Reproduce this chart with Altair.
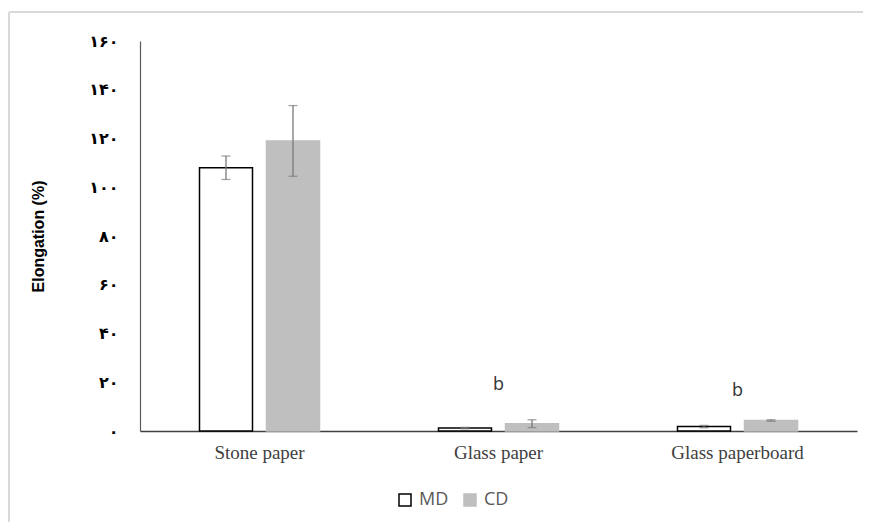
import altair as alt
import pandas as pd

categories = ["Stone paper", "Glass paper", "Glass paperboard"]
series = ["MD", "CD"]
md_values = [108.0, 1.2, 1.8]
md_errors = [4.8, 0.3, 0.5]
cd_values = [119.0, 3.0, 4.3]
cd_errors = [14.5, 1.6, 0.3]

letter_categories = ["Glass paper", "Glass paperboard"]
letters = ["b", "b"]
letter_y = [19.0, 16.5]

y_ticks = [0, 20, 40, 60, 80, 100, 120, 140, 160]
y_tick_labels = ["۰", "۲۰", "۴۰", "۶۰", "۸۰", "۱۰۰", "۱۲۰", "۱۴۰", "۱۶۰"]

rows = []
for i, c in enumerate(categories):
    rows.append({"category": c, "series": "MD", "value": md_values[i],
                 "lo": md_values[i] - md_errors[i], "hi": md_values[i] + md_errors[i]})
    rows.append({"category": c, "series": "CD", "value": cd_values[i],
                 "lo": cd_values[i] - cd_errors[i], "hi": cd_values[i] + cd_errors[i]})
df = pd.DataFrame(rows)
ann = pd.DataFrame({"category": letter_categories, "letter": letters, "y": letter_y})

label_expr = "[" + ",".join("'" + s + "'" for s in y_tick_labels) + "][indexof([" + \
    ",".join(str(v) for v in y_ticks) + "], datum.value)]"

x_enc = alt.X("category:N", sort=categories,
              scale=alt.Scale(domain=categories, paddingInner=0, paddingOuter=0),
              axis=alt.Axis(title=None, labelAngle=0, ticks=False, domainColor="#404040",
                            domainWidth=1.3, labelFont="Liberation Serif", labelFontSize=19,
                            labelColor="#404040", labelPadding=12))
xo_enc = alt.XOffset("series:N", scale=alt.Scale(domain=series, paddingInner=0.209,
                                                 paddingOuter=0.888))
y_scale = alt.Scale(domain=[0, 160], nice=False)

fill_scale = alt.Scale(domain=series, range=["#ffffff", "#bfbfbf"])
stroke_scale = alt.Scale(domain=series, range=["#000000", "#bfbfbf"])
legend = alt.Legend(title=None, orient="none", direction="horizontal", legendX=256,
                    legendY=450, symbolType="square", symbolSize=144, symbolStrokeWidth=1.5,
                    labelFont="Open Sans", labelFontSize=18, labelColor="#595959",
                    labelOffset=5, columnPadding=12, padding=0)

bars = alt.Chart(df).mark_bar(strokeWidth=1.5).encode(
    x=x_enc,
    xOffset=xo_enc,
    y=alt.Y("value:Q", scale=y_scale,
            axis=alt.Axis(title="Elongation (%)", values=y_ticks, labelExpr=label_expr,
                          ticks=False, grid=False, domainColor="#595959", domainWidth=1.2,
                          labelFont="DejaVu Sans", labelFontWeight="bold", labelFontSize=16,
                          labelColor="#000000", labelPadding=22,
                          titleFont="Liberation Sans", titleFontWeight="bold",
                          titleFontSize=16, titleColor="#000000", titlePadding=42)),
    fill=alt.Fill("series:N", scale=fill_scale, legend=legend),
    stroke=alt.Stroke("series:N", scale=stroke_scale, legend=legend),
)

rules = alt.Chart(df).mark_rule(color="#7a7a7a", strokeWidth=1.3).encode(
    x=alt.X("category:N", sort=categories), xOffset=alt.XOffset("series:N"),
    y=alt.Y("lo:Q"), y2="hi:Q")
caps_hi = alt.Chart(df).mark_tick(color="#7a7a7a", size=9, thickness=1.3).encode(
    x=alt.X("category:N", sort=categories), xOffset=alt.XOffset("series:N"),
    y=alt.Y("hi:Q"))
caps_lo = alt.Chart(df).mark_tick(color="#7a7a7a", size=9, thickness=1.3).encode(
    x=alt.X("category:N", sort=categories), xOffset=alt.XOffset("series:N"),
    y=alt.Y("lo:Q"))

texts = alt.Chart(ann).mark_text(font="Open Sans", fontSize=18, color="#333333",
                                 baseline="middle").encode(
    x=alt.X("category:N", sort=categories), y=alt.Y("y:Q"), text="letter:N")

frame_df = pd.DataFrame({"a": [0]})
frame_top = alt.Chart(frame_df).mark_rule(color="#d9d9d9", strokeWidth=2).encode(
    x=alt.value(-131), x2=alt.value(760), y=alt.value(-29))
frame_left = alt.Chart(frame_df).mark_rule(color="#d9d9d9", strokeWidth=2).encode(
    x=alt.value(-131), y=alt.value(-29), y2=alt.value(520))

chart = alt.layer(frame_top, frame_left, bars, rules, caps_hi, caps_lo, texts).properties(
    width=717, height=390,
    background="white",
    autosize=alt.AutoSizeParams(type="none"),
    padding={"left": 132, "top": 33, "right": 6, "bottom": 91},
).configure_view(strokeWidth=0, stroke="transparent")

chart.save("out.html", embed_options={"renderer": "svg", "actions": False})
